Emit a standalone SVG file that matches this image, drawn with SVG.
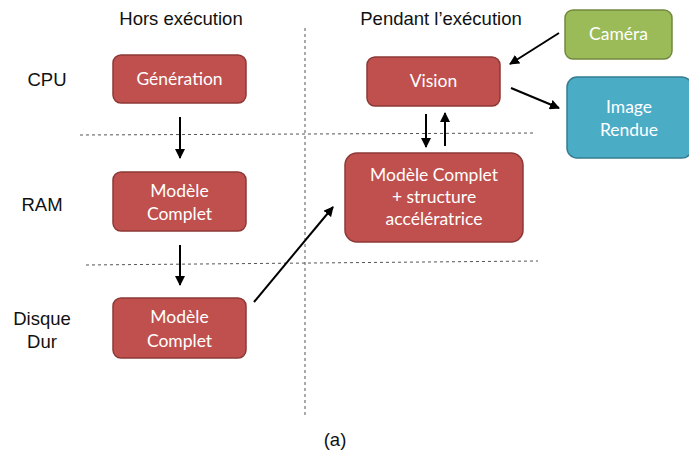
<svg xmlns="http://www.w3.org/2000/svg" width="689" height="455" viewBox="0 0 689 455">
<defs>
<style>
.red{fill:#c0504d;stroke:#8c3836;stroke-width:1.5}
.green{fill:#9bbb59;stroke:#71893f;stroke-width:1.5}
.blue{fill:#4bacc6;stroke:#357d91;stroke-width:1.5}
.bt{fill:#fff;font-family:Lato,"Open Sans",sans-serif;font-size:17.5px;text-anchor:middle}
.lb{fill:#111;font-family:"Liberation Sans",Arial,sans-serif;font-size:18.5px;text-anchor:middle}
.dash{stroke:#555;stroke-width:1;stroke-dasharray:3,3;fill:none}
.arr{stroke:#000;stroke-width:2;fill:none;marker-end:url(#ah)}
</style>
<marker id="ah" viewBox="0 0 10 10" refX="9" refY="5" markerWidth="5" markerHeight="5" orient="auto" markerUnits="strokeWidth">
<path d="M0,0 L10,5 L0,10 z" fill="#000"/>
</marker>
</defs>
<rect width="689" height="455" fill="#fff"/>
<g id="guides">
<line class="dash" x1="305" y1="28" x2="305" y2="415"/>
<line class="dash" x1="80" y1="135" x2="536" y2="133"/>
<line class="dash" x1="86" y1="265" x2="538" y2="261"/>
</g>
<g id="labels">
<text class="lb" x="181" y="25">Hors exécution</text>
<text class="lb" x="441" y="25">Pendant l’exécution</text>
<text class="lb" x="47" y="86">CPU</text>
<text class="lb" x="42" y="211">RAM</text>
<text class="lb" x="42" y="325">Disque</text>
<text class="lb" x="42" y="348">Dur</text>
<text class="lb" x="335" y="446">(a)</text>
</g>
<g id="generation">
<rect class="red" x="113" y="55" width="133" height="48" rx="8"/>
<text class="bt" x="179.5" y="85">Génération</text>
</g>
<g id="ram-modele">
<rect class="red" x="113" y="172" width="133" height="59" rx="8"/>
<text class="bt" x="179.5" y="197">Modèle</text>
<text class="bt" x="179.5" y="220">Complet</text>
</g>
<g id="disque-modele">
<rect class="red" x="113" y="298" width="133" height="60" rx="8"/>
<text class="bt" x="179.5" y="323">Modèle</text>
<text class="bt" x="179.5" y="347">Complet</text>
</g>
<g id="vision">
<rect class="red" x="367" y="57" width="133" height="49" rx="8"/>
<text class="bt" x="433.5" y="87">Vision</text>
</g>
<g id="modele-complet">
<rect class="red" x="345" y="153" width="178" height="89" rx="12"/>
<text class="bt" x="434" y="181">Modèle Complet</text>
<text class="bt" x="434" y="203">+ structure</text>
<text class="bt" x="434" y="225">accélératrice</text>
</g>
<g id="camera">
<rect class="green" x="565" y="10" width="107" height="49" rx="8"/>
<text class="bt" x="618.5" y="40">Caméra</text>
</g>
<g id="image">
<rect class="blue" x="567" y="77" width="125" height="81" rx="10"/>
<text class="bt" x="629" y="113">Image</text>
<text class="bt" x="629" y="136">Rendue</text>
</g>
<g id="connectors">
<line class="arr" x1="180" y1="117" x2="180" y2="158"/>
<line class="arr" x1="180" y1="245" x2="180" y2="285"/>
<line class="arr" x1="254" y1="302" x2="333" y2="207"/>
<line class="arr" x1="426" y1="114" x2="426" y2="147"/>
<line class="arr" x1="445" y1="146" x2="445" y2="113"/>
<line class="arr" x1="559" y1="33" x2="510" y2="64"/>
<line class="arr" x1="511" y1="88" x2="559" y2="108"/>
</g>
</svg>
